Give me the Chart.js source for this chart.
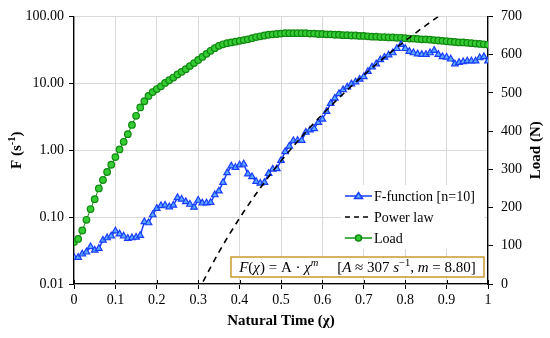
<!DOCTYPE html>
<html lang="en">
<head>
<meta charset="UTF-8">
<title>F-function vs natural time</title>
<style>
  html, body { margin: 0; padding: 0; background: #fff; }
</style>
<script src="https://cdn.jsdelivr.net/npm/chart.js"></script>
</head>
<body>
<canvas id="chart" width="550" height="338"></canvas>
<script>
// natural time (chi)
const natTime = [
  0.00, 0.01, 0.02, 0.03, 0.04, 0.05, 0.06, 0.07, 0.08, 0.09,
  0.10, 0.11, 0.12, 0.13, 0.14, 0.15, 0.16, 0.17, 0.18, 0.19,
  0.20, 0.21, 0.22, 0.23, 0.24, 0.25, 0.26, 0.27, 0.28, 0.29,
  0.30, 0.31, 0.32, 0.33, 0.34, 0.35, 0.36, 0.37, 0.38, 0.39,
  0.40, 0.41, 0.42, 0.43, 0.44, 0.45, 0.46, 0.47, 0.48, 0.49,
  0.50, 0.51, 0.52, 0.53, 0.54, 0.55, 0.56, 0.57, 0.58, 0.59,
  0.60, 0.61, 0.62, 0.63, 0.64, 0.65, 0.66, 0.67, 0.68, 0.69,
  0.70, 0.71, 0.72, 0.73, 0.74, 0.75, 0.76, 0.77, 0.78, 0.79,
  0.80, 0.81, 0.82, 0.83, 0.84, 0.85, 0.86, 0.87, 0.88, 0.89,
  0.90, 0.91, 0.92, 0.93, 0.94, 0.95, 0.96, 0.97, 0.98, 0.99,
  1.00
];

// F-function [n=10], s^-1 (left, log axis)
const fFunction = [
  0.025, 0.025, 0.028, 0.030, 0.036, 0.032, 0.034, 0.045, 0.049, 0.052,
  0.062, 0.056, 0.052, 0.048, 0.049, 0.050, 0.053, 0.085, 0.082, 0.108,
  0.135, 0.148, 0.150, 0.142, 0.150, 0.195, 0.185, 0.170, 0.155, 0.140,
  0.178, 0.162, 0.163, 0.165, 0.215, 0.245, 0.33, 0.46, 0.58, 0.55,
  0.60, 0.62, 0.44, 0.40, 0.34, 0.32, 0.33, 0.45, 0.52, 0.53,
  0.70, 0.95, 1.15, 1.38, 1.40, 1.40, 1.85, 2.0, 2.1, 2.6,
  2.9, 3.8, 5.0, 6.0, 7.0, 8.0, 8.8, 9.8, 10.5, 11.5,
  12.5, 15.0, 17.5, 19.5, 22.5, 24.5, 26.5, 28.5, 33, 38,
  33, 30, 28.5, 27.5, 27, 27, 28.5, 31, 27, 25,
  24.5, 23, 19.5, 20.5, 21, 21.5, 21.5, 21.5, 24, 25,
  21.5
];

// Load, N (right axis)
const loadN = [
  110, 118, 140, 168, 196, 222, 250, 272, 293, 312,
  332, 352, 372, 392, 416, 440, 462, 478, 492, 502,
  510, 517, 526, 533, 540, 548, 555, 562, 570, 578,
  586, 594, 602, 610, 617, 623, 627, 630, 632, 634,
  636, 638, 640, 643, 646, 648, 650, 652, 653, 654,
  655, 656, 656, 656, 656, 656, 656, 655, 655, 654,
  654, 653, 653, 652, 652, 651, 651, 650, 650, 649,
  649, 648, 647, 647, 646, 646, 645, 645, 644, 644,
  643, 642, 642, 641, 640, 640, 639, 638, 637, 636,
  635, 634, 633, 632, 632, 631, 630, 629, 628, 627,
  626
];

// power law fit
const powerX = [0.30, 0.31, 0.35, 0.40, 0.45, 0.50, 0.55, 0.60, 0.65, 0.70, 0.75, 0.80, 0.85, 0.88, 0.90];
const powerF = [0.0077, 0.0103, 0.0299, 0.0966, 0.2725, 0.689, 1.593, 3.427, 6.93, 13.30, 24.4, 43.1, 73.5, 99.7, 121.5];

const logTicks = [0.01, 0.1, 1, 10, 100];

const serif = '"Liberation Serif", "Times New Roman", serif';

function pairs(xs, ys) {
  return xs.map((x, i) => ({ x: x, y: ys[i] }));
}

// draws a run of text pieces: [text, italic, superscript]
function drawRich(ctx, x, y, parts, size, weight) {
  ctx.textBaseline = 'alphabetic';
  ctx.textAlign = 'left';
  parts.forEach(p => {
    const sz = p[2] ? size * 0.7 : size;
    ctx.font = (p[1] ? 'italic ' : '') + (weight || '') + ' ' + sz + 'px ' + serif;
    ctx.fillText(p[0], x, p[2] ? y - size * 0.4 : y);
    x += ctx.measureText(p[0]).width;
  });
  return x;
}

function richWidth(ctx, parts, size, weight) {
  let w = 0;
  parts.forEach(p => {
    const sz = p[2] ? size * 0.7 : size;
    ctx.font = (p[1] ? 'italic ' : '') + (weight || '') + ' ' + sz + 'px ' + serif;
    w += ctx.measureText(p[0]).width;
  });
  return w;
}

const extrasPlugin = {
  id: 'extras',
  afterDraw(chart) {
    const ctx = chart.ctx;
    const area = chart.chartArea;
    ctx.save();
    ctx.fillStyle = '#000';

    // small ticks poking above the x axis, like the original
    const xs = chart.scales.x;
    ctx.strokeStyle = '#000';
    ctx.lineWidth = 1;
    xs.ticks.forEach(t => {
      const px = Math.round(xs.getPixelForValue(t.value)) + 0.5;
      ctx.beginPath();
      ctx.moveTo(px, area.bottom - 4);
      ctx.lineTo(px, area.bottom);
      ctx.stroke();
    });

    // axis titles
    ctx.font = 'bold 15px ' + serif;
    ctx.textAlign = 'center';
    ctx.textBaseline = 'middle';
    ctx.fillText('Natural Time (\u03C7)', (area.left + area.right) / 2, 321);

    const leftTitle = [['F (s', false, false], ['-1', false, true], [')', false, false]];
    ctx.save();
    ctx.translate(16, (area.top + area.bottom) / 2);
    ctx.rotate(-Math.PI / 2);
    const lw = richWidth(ctx, leftTitle, 15, 'bold');
    drawRich(ctx, -lw / 2, 5, leftTitle, 15, 'bold');
    ctx.restore();

    ctx.save();
    ctx.translate(536, (area.top + area.bottom) / 2);
    ctx.rotate(-Math.PI / 2);
    ctx.font = 'bold 15px ' + serif;
    ctx.textAlign = 'center';
    ctx.textBaseline = 'middle';
    ctx.fillText('Load (N)', 0, 0);
    ctx.restore();

    // legend
    ctx.fillStyle = '#fff';
    ctx.fillRect(341, 185, 143, 64);
    const rows = [
      { label: 'F-function [n=10]', color: '#1a3cff', dash: [], marker: 'tri', y: 196 },
      { label: 'Power law', color: '#000', dash: [5, 4], marker: null, y: 217 },
      { label: 'Load', color: '#119911', dash: [], marker: 'circle', y: 238 }
    ];
    rows.forEach(r => {
      ctx.strokeStyle = r.color;
      ctx.lineWidth = 1.5;
      ctx.setLineDash(r.dash);
      ctx.beginPath();
      ctx.moveTo(345, r.y);
      ctx.lineTo(372, r.y);
      ctx.stroke();
      ctx.setLineDash([]);
      if (r.marker === 'tri') {
        ctx.fillStyle = '#5aa8ff';
        ctx.strokeStyle = '#1a3cff';
        ctx.beginPath();
        ctx.moveTo(358.5, r.y - 3.5);
        ctx.lineTo(362.5, r.y + 2.5);
        ctx.lineTo(354.5, r.y + 2.5);
        ctx.closePath();
        ctx.fill();
        ctx.stroke();
      } else if (r.marker === 'circle') {
        ctx.fillStyle = '#33cc33';
        ctx.strokeStyle = '#118811';
        ctx.beginPath();
        ctx.arc(358.5, r.y, 3, 0, Math.PI * 2);
        ctx.fill();
        ctx.stroke();
      }
      ctx.fillStyle = '#000';
      ctx.font = '14px ' + serif;
      ctx.textAlign = 'left';
      ctx.textBaseline = 'middle';
      ctx.fillText(r.label, 374, r.y + 1);
    });

    // fit annotation
    ctx.fillStyle = '#fff';
    ctx.fillRect(231, 257, 253, 20);
    ctx.strokeStyle = '#c99a2e';
    ctx.lineWidth = 1.5;
    ctx.strokeRect(231, 257, 253, 20);
    ctx.fillStyle = '#000';
    const formula = [
      ['F', true, false], ['(', false, false], ['\u03C7', true, false], [')', false, false],
      [' = A \u00B7 ', false, false], ['\u03C7', true, false], ['m', true, true],
      ['     [', false, false], ['A', true, false], [' \u2248 307 ', false, false],
      ['s', true, false], ['\u22121', false, true], [', ', false, false],
      ['m', true, false], [' = 8.80]', false, false]
    ];
    const fw = richWidth(ctx, formula, 15);
    drawRich(ctx, 231 + (253 - fw) / 2, 272, formula, 15);

    ctx.restore();
  }
};

new Chart(document.getElementById('chart'), {
  type: 'line',
  data: {
    datasets: [
      {
        label: 'Power law',
        data: pairs(powerX, powerF),
        yAxisID: 'y',
        borderColor: '#000',
        borderWidth: 1.6,
        borderDash: [6, 5],
        pointRadius: 0,
        cubicInterpolationMode: 'monotone',
        order: 0
      },
      {
        label: 'F-function [n=10]',
        data: pairs(natTime, fFunction),
        yAxisID: 'y',
        borderColor: '#1a3cff',
        borderWidth: 1.5,
        pointStyle: 'triangle',
        pointRadius: 3.8,
        pointBackgroundColor: '#5aa8ff',
        pointBorderColor: '#1a3cff',
        pointBorderWidth: 1.2,
        tension: 0,
        order: 1
      },
      {
        label: 'Load',
        data: pairs(natTime, loadN),
        yAxisID: 'y1',
        borderColor: '#118811',
        borderWidth: 1,
        pointStyle: 'circle',
        pointRadius: 3.3,
        pointBackgroundColor: '#33cc33',
        pointBorderColor: '#118811',
        pointBorderWidth: 1.2,
        tension: 0,
        order: 2
      }
    ]
  },
  options: {
    responsive: false,
    animation: false,
    devicePixelRatio: 1,
    layout: { padding: { top: 15, left: 0, right: 0, bottom: 0 } },
    plugins: {
      legend: { display: false },
      tooltip: { enabled: false }
    },
    scales: {
      x: {
        type: 'linear',
        min: 0,
        max: 1,
        ticks: {
          stepSize: 0.1,
          color: '#000',
          padding: 3,
          font: { family: serif, size: 14 },
          callback: v => String(+v.toFixed(1))
        },
        grid: { color: '#d9d9d9', tickColor: '#000', tickLength: 5 },
        border: { color: '#000', width: 1.3 },
        afterFit: s => { s.height = 54; }
      },
      y: {
        type: 'logarithmic',
        position: 'left',
        min: 0.01,
        max: 100,
        afterBuildTicks: s => { s.ticks = logTicks.map(v => ({ value: v })); },
        ticks: {
          color: '#000',
          padding: 5,
          font: { family: serif, size: 14 },
          callback: v => Number(v).toFixed(2)
        },
        grid: { color: '#d9d9d9', tickColor: '#000', tickLength: 5 },
        border: { color: '#000', width: 1.3 },
        afterFit: s => { s.width = 74; }
      },
      y1: {
        type: 'linear',
        position: 'right',
        min: 0,
        max: 700,
        ticks: {
          stepSize: 100,
          color: '#000',
          padding: 8,
          font: { family: serif, size: 14 }
        },
        grid: { drawOnChartArea: false, tickColor: '#000', tickLength: 5 },
        border: { color: '#000', width: 1.3 },
        afterFit: s => { s.width = 62; }
      }
    }
  },
  plugins: [extrasPlugin]
});
</script>
</body>
</html>
